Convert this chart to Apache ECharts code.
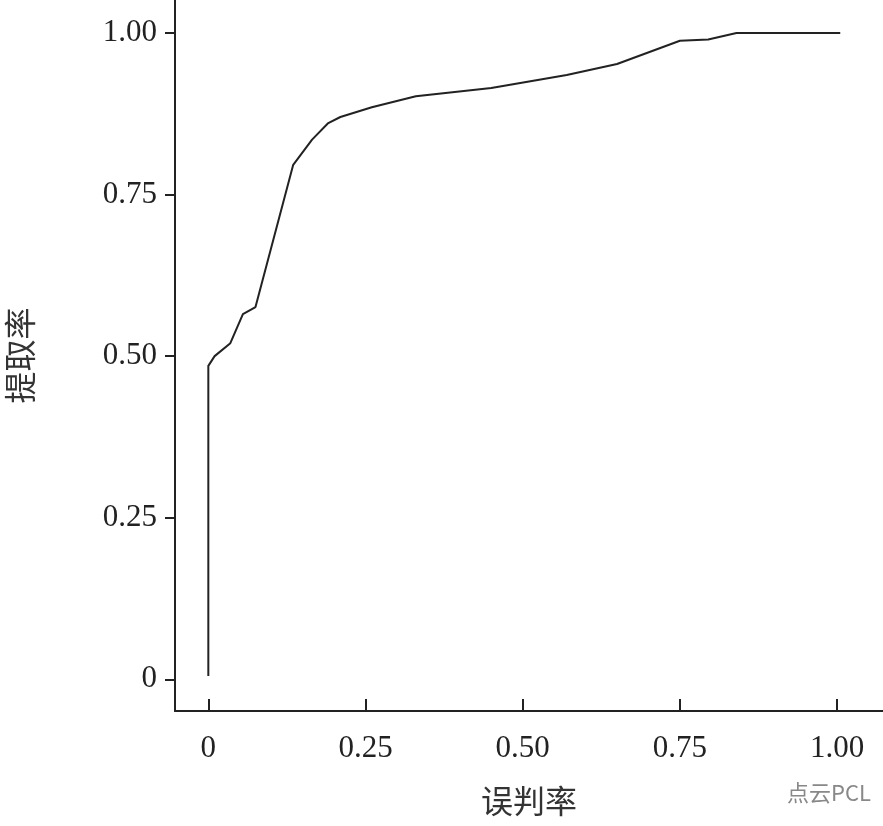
<!DOCTYPE html>
<html><head><meta charset="utf-8">
<script src="https://cdn.jsdelivr.net/npm/echarts@6/dist/echarts.min.js"></script>
<style>html,body{margin:0;background:#fff}#c{width:883px;height:826px}</style>
</head><body><div id="c"></div>
<script>
// ROC-like curve
var falseRate = [0, 0, 0.01, 0.035, 0.055, 0.075, 0.135, 0.165, 0.19, 0.21, 0.26, 0.33, 0.45, 0.57, 0.65, 0.75, 0.795, 0.84, 1.005];
var extractRate = [0.005, 0.485, 0.5, 0.52, 0.565, 0.576, 0.796, 0.835, 0.86, 0.87, 0.885, 0.902, 0.915, 0.935, 0.952, 0.988, 0.99, 1.0, 1.0];
var ticks = [0, 0.25, 0.5, 0.75, 1];

var fmt = function (v) { return v === 0 ? '0' : v.toFixed(2); };
var serif = '"Liberation Serif", "Noto Sans CJK SC", serif';

var chart = echarts.init(document.getElementById('c'));
chart.setOption({
    animation: false,
    grid: { left: 163, top: 0, right: 0, bottom: 113 },
    xAxis: {
        type: 'value', min: -0.053, max: 1.073,
        name: '误判率', nameLocation: 'middle', nameGap: 78,
        nameTextStyle: { fontSize: 32, color: '#333', fontFamily: serif },
        axisLine: { onZero: false, lineStyle: { color: '#222', width: 2 } },
        axisTick: { show: true, inside: true, length: 12, customValues: ticks, lineStyle: { color: '#222', width: 2 } },
        axisLabel: { customValues: ticks, formatter: fmt, fontSize: 31, color: '#222', fontFamily: serif, margin: 22 },
        splitLine: { show: false }
    },
    yAxis: {
        type: 'value', min: -0.049, max: 1.051,
        name: '提取率', nameLocation: 'middle', nameGap: 135,
        nameTextStyle: { fontSize: 32, color: '#333', fontFamily: serif },
        axisLine: { show: true, onZero: false, lineStyle: { color: '#222', width: 2 } },
        axisTick: { show: true, length: 10, customValues: ticks, lineStyle: { color: '#222', width: 2 } },
        axisLabel: { customValues: ticks, formatter: fmt, fontSize: 31, color: '#222', fontFamily: serif, margin: 18 },
        splitLine: { show: false }
    },
    series: [{
        type: 'line', showSymbol: false,
        data: falseRate.map(function (x, i) { return [x, extractRate[i]]; }),
        lineStyle: { color: '#222', width: 2 }
    }],
    graphic: [{
        type: 'text', right: 12, bottom: 22,
        style: { text: '点云PCL', font: '22px "Noto Sans CJK SC"', fill: '#888' }
    }]
});
</script></body></html>
